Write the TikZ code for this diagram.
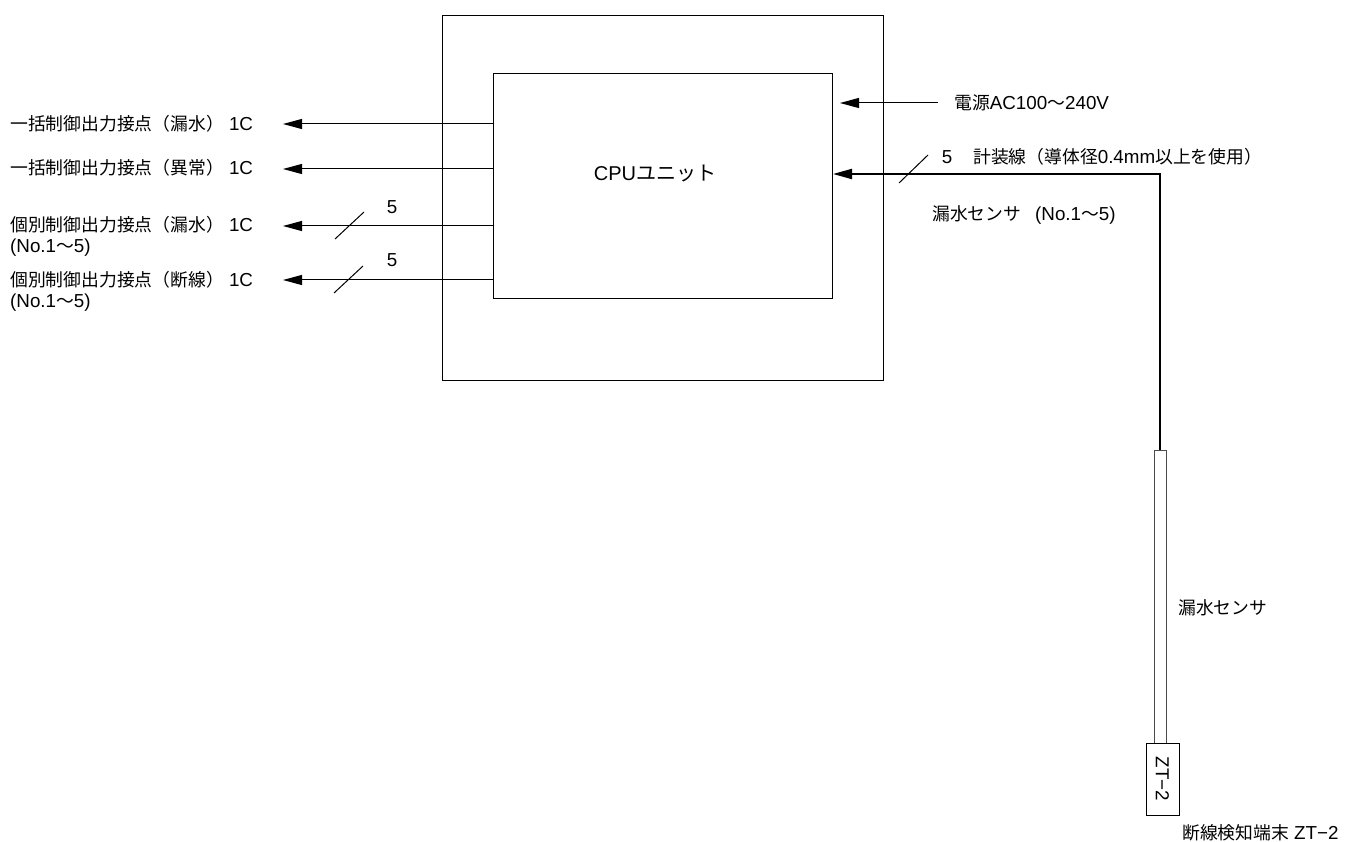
\documentclass[tikz,border=0pt]{standalone}
\usepackage{fontspec}
\setmainfont{Liberation Sans}
\newfontfamily\jf{Noto Sans CJK JP}
\newcommand\J[1]{{\jf\fontsize{17.8}{20}\selectfont #1}}
\newcommand\JB[1]{{\jf\fontsize{20}{22}\selectfont #1}}
\usetikzlibrary{arrows.meta}
\begin{document}
\begin{tikzpicture}[x=1pt,y=-1pt,
  lbl/.style={anchor=west,inner sep=0pt,font=\fontsize{18.8}{21}\selectfont},
  boxst/.style={draw,line width=1pt,inner sep=0pt},
  arr/.style={line width=1pt,-{Triangle[length=19pt,width=10pt]}},
  tarr/.style={line width=2pt,-{Triangle[length=19pt,width=10pt]}},
  slash/.style={line width=1pt}]
\useasboundingbox (0,0) rectangle (1357,842);
\fill[white] (0,0) rectangle (1357,842);
% boxes
\node[boxst,minimum width=441pt,minimum height=365pt,anchor=north west] (outer) at (442,15) {};
\node[boxst,fill=white,minimum width=339pt,minimum height=225pt,anchor=north west] (cpu) at (493,73) {};
\node[inner sep=0pt,font=\fontsize{20}{22}\selectfont] (cputxt) at (655,174) {CPU\JB{ユニット}};
% left outputs
\coordinate (t1) at (283,124);
\coordinate (t2) at (283,169);
\coordinate (t3) at (283,226);
\coordinate (t4) at (283,280);
\draw[arr] (cpu.west |- t1) -- (t1);
\draw[arr] (cpu.west |- t2) -- (t2);
\draw[arr] (cpu.west |- t3) -- (t3);
\draw[arr] (cpu.west |- t4) -- (t4);
\node[lbl] (l1) at (10,124) {\J{一括制御出力接点（漏水）} 1C};
\node[lbl] (l2) at (10,168) {\J{一括制御出力接点（異常）} 1C};
\node[lbl] (l3) at (10,225) {\J{個別制御出力接点（漏水）} 1C};
\node[lbl] (l3b) at (10,248) {(No.1\J{～}5)};
\node[lbl] (l4) at (10,280) {\J{個別制御出力接点（断線）} 1C};
\node[lbl] (l4b) at (10,303) {(No.1\J{～}5)};
\draw[slash] (335,239) -- (364,212);
\draw[slash] (334,293) -- (363,266);
\node[lbl,anchor=center] (n3) at (392,207) {5};
\node[lbl,anchor=center] (n4) at (392,260) {5};
% power
\coordinate (p1) at (840,103);
\node[lbl] (pwr) at (954,103) {\J{電源}AC100\J{～}240V};
\draw[arr,shorten <=16pt] (pwr.west) -- (p1);
% sensor
\node[draw,line width=0.8pt,draw=black!70,inner sep=0pt,minimum width=12pt,minimum height=293pt,anchor=north] (tube) at (1160,450) {};
\node[boxst,rotate=-90,minimum width=72pt,minimum height=33pt,font=\fontsize{18.8}{21}\selectfont] (zt) at (1162.5,779) {ZT−2};
\coordinate (corner) at (1160,174);
\draw[tarr] (tube.north) -- (corner) -- (cpu.east |- corner);
\draw[slash] (899,183) -- (928,155);
\node[lbl,anchor=center] (n5) at (947,157) {5};
\node[lbl] (cable) at (973,157) {\J{計装線（導体径}0.4mm\J{以上を使用）}};
\node[lbl] (sens1) at (932,215) {\J{漏水センサ}\hspace{14pt}(No.1\J{～}5)};
\node[lbl] (sens2) at (1178,608) {\J{漏水センサ}};
\node[lbl] (term) at (1182,833) {\J{断線検知端末} ZT−2};
\end{tikzpicture}
\end{document}
